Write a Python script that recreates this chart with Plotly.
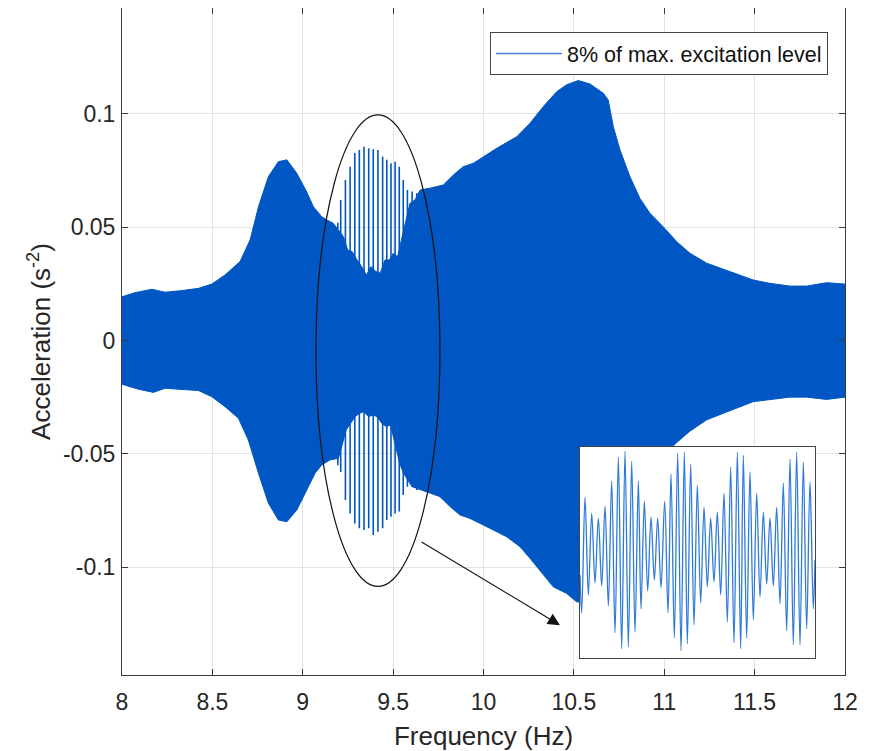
import plotly.graph_objects as go

# ---------------- data ----------------
freq_upper = [8.000, 8.072, 8.165, 8.238, 8.331, 8.423, 8.497, 8.570, 8.653, 8.709,
              8.755, 8.810, 8.865, 8.912, 8.967, 9.022, 9.059, 9.105, 9.133, 9.169,
              9.197, 9.225, 9.249, 9.274, 9.300, 9.326, 9.352, 9.378, 9.404, 9.429,
              9.455, 9.479, 9.501, 9.525, 9.548, 9.571, 9.593, 9.621, 9.649, 9.704,
              9.778, 9.833, 9.888, 9.944, 9.999, 10.073, 10.184, 10.257, 10.331, 10.405,
              10.460, 10.524, 10.589, 10.663, 10.690, 10.718, 10.755, 10.810, 10.866, 10.921,
              10.994, 11.069, 11.142, 11.235, 11.363, 11.492, 11.585, 11.695, 11.788, 11.898,
              12.000]
acc_upper = [0.0193, 0.0211, 0.0226, 0.0213, 0.0220, 0.0230, 0.0249, 0.0289, 0.0348, 0.0444,
             0.0590, 0.0723, 0.0789, 0.0797, 0.0738, 0.0655, 0.0590, 0.0546, 0.0532, 0.0517,
             0.0488, 0.0458, 0.0399, 0.0392, 0.0355, 0.0326, 0.0289, 0.0326, 0.0304, 0.0297,
             0.0355, 0.0355, 0.0385, 0.0370, 0.0451, 0.0532, 0.0605, 0.0620, 0.0664, 0.0672,
             0.0686, 0.0730, 0.0767, 0.0782, 0.0811, 0.0848, 0.0899, 0.0958, 0.1032, 0.1098,
             0.1128, 0.1147, 0.1132, 0.1091, 0.1061, 0.0944, 0.0841, 0.0723, 0.0626, 0.0561,
             0.0502, 0.0436, 0.0385, 0.0341, 0.0304, 0.0267, 0.0252, 0.0240, 0.0240, 0.0255,
             0.0249]

freq_lower = [8.000, 8.091, 8.174, 8.238, 8.331, 8.423, 8.497, 8.570, 8.644, 8.699,
              8.755, 8.810, 8.865, 8.912, 8.967, 9.022, 9.068, 9.105, 9.151, 9.197,
              9.215, 9.240, 9.264, 9.290, 9.314, 9.338, 9.364, 9.388, 9.412, 9.438,
              9.462, 9.486, 9.512, 9.536, 9.558, 9.581, 9.605, 9.631, 9.655, 9.704,
              9.759, 9.815, 9.870, 9.925, 9.981, 10.054, 10.128, 10.202, 10.257, 10.312,
              10.386, 10.460, 10.515, 10.589, 10.663, 10.718, 10.755, 10.810, 10.866, 10.921,
              10.994, 11.069, 11.142, 11.235, 11.363, 11.492, 11.585, 11.695, 11.788, 11.898,
              12.000]
acc_lower = [-0.0193, -0.0215, -0.0229, -0.0211, -0.0215, -0.0221, -0.0248, -0.0292, -0.0343, -0.0439,
             -0.0586, -0.0718, -0.0792, -0.0800, -0.0748, -0.0660, -0.0586, -0.0549, -0.0527, -0.0520,
             -0.0469, -0.0395, -0.0366, -0.0336, -0.0321, -0.0314, -0.0336, -0.0329, -0.0336, -0.0366,
             -0.0380, -0.0373, -0.0454, -0.0542, -0.0586, -0.0616, -0.0645, -0.0652, -0.0660, -0.0674,
             -0.0689, -0.0733, -0.0770, -0.0785, -0.0807, -0.0836, -0.0866, -0.0910, -0.0961, -0.1013,
             -0.1087, -0.1116, -0.1153, -0.1160, -0.1100, -0.0960, -0.0850, -0.0730, -0.0630, -0.0570,
             -0.0510, -0.0450, -0.0400, -0.0350, -0.0310, -0.0270, -0.0260, -0.0250, -0.0250, -0.0260,
             -0.0250]

spike_freq = [9.194, 9.210, 9.236, 9.262, 9.288, 9.313, 9.339, 9.365, 9.390, 9.416,
              9.442, 9.465, 9.488, 9.511, 9.534, 9.556, 9.579, 9.605, 9.631]
spike_top = [0.0519, 0.0620, 0.0708, 0.0767, 0.0827, 0.0841, 0.0855, 0.0848, 0.0844, 0.0841,
             0.0811, 0.0797, 0.0782, 0.0789, 0.0767, 0.0708, 0.0664, 0.0657, 0.0650]
spike_bottom = [-0.0550, -0.0580, -0.0704, -0.0763, -0.0807, -0.0829, -0.0836, -0.0829, -0.0858, -0.0844,
                -0.0829, -0.0792, -0.0778, -0.0763, -0.0755, -0.0682, -0.0645, -0.0645, -0.0660]

inset_t = [0.0, 0.5, 1.5, 2.5, 3.5, 4.5, 5.5, 6.5, 7.5, 8.5, 9.5, 10.5, 11.5, 12.5, 13.5, 14.5,
           15.5, 16.5, 17.5, 18.3, 19.3, 20.3, 21.3, 22.3, 23.3, 24.3, 25.4, 26.4, 27.3, 28.3,
           29.3, 30.3, 31.3, 32.2, 33.2, 34.2, 35.2, 36.2, 37.2, 38.2, 39.2, 40.2, 41.2, 42.2,
           43.2, 44.2, 45.2, 46.2, 47.2, 48.2, 49.0, 50.0, 51.0, 52.0, 53.0, 54.0, 55.0, 56.0,
           57.0, 58.0, 59.0, 60.0, 61.0, 62.0, 63.0, 64.0, 65.0, 66.0, 67.0, 68.0, 69.0, 70.0, 70.5]
inset_acc = [-0.25, -0.63, 0.53, -0.45, 0.37, -0.33, 0.32, -0.36, 0.44, -0.56, 0.69, -0.83, 0.93, -0.99,
             0.99, -0.97, 0.89, -0.82, 0.69, -0.59, 0.49, -0.41, 0.33, -0.30, 0.32, -0.38, 0.49, -0.63,
             0.76, -0.88, 0.97, -1.01, 0.98, -0.94, 0.86, -0.75, 0.65, -0.53, 0.43, -0.37, 0.32, -0.32,
             0.38, -0.45, 0.57, -0.72, 0.83, -0.93, 0.98, -0.99, 0.95, -0.88, 0.78, -0.70, 0.57, -0.47,
             0.38, -0.34, 0.32, -0.36, 0.43, -0.54, 0.67, -0.81, 0.91, -0.95, 0.98, -0.95, 0.88, -0.79,
             0.68, -0.59, -0.10]

x_ticks = [8, 8.5, 9, 9.5, 10, 10.5, 11, 11.5, 12]
x_tick_labels = ['8', '8.5', '9', '9.5', '10', '10.5', '11', '11.5', '12']
y_ticks = [-0.1, -0.05, 0, 0.05, 0.1]
y_tick_labels = ['-0.1', '-0.05', '0', '0.05', '0.1']

ellipse_f = [9.073, 9.759]
ellipse_acc = [-0.1085, 0.0995]
arrow_from = (9.649, -0.0885)
arrow_to = (10.423, -0.1256)

# ---------------- styling ----------------
FILL = '#0057C4'
LEG = '#3F86DE'
FONT = 'Liberation Sans, Arial, Helvetica, sans-serif'
TXT = '#262626'

fig = go.Figure()

band_x = freq_upper + freq_lower[::-1]
band_y = acc_upper + acc_lower[::-1]
fig.add_trace(go.Scatter(x=band_x, y=band_y, mode='lines', fill='toself',
                         fillcolor=FILL, line=dict(color=FILL, width=1),
                         showlegend=False, hoverinfo='skip'))

sx, sy = [], []
for f, t, b in zip(spike_freq, spike_top, spike_bottom):
    sx += [f, f, None]
    sy += [b, t, None]
fig.add_trace(go.Scatter(x=sx, y=sy, mode='lines', line=dict(color=FILL, width=1.6),
                         showlegend=False, hoverinfo='skip'))

# legend entry
fig.add_trace(go.Scatter(x=[None], y=[None], mode='lines', line=dict(color=LEG, width=1.6),
                         name='8% of max. excitation level'))

# inset
inset_xr = [min(inset_t), max(inset_t)]
inset_yr = [-1.083, 1.033]
fig.add_trace(go.Scatter(x=inset_t, y=inset_acc, mode='lines',
                         line=dict(color='#2F7AD9', width=1.3, shape='spline', smoothing=1.0),
                         xaxis='x2', yaxis='y2', showlegend=False, hoverinfo='skip'))

fig.add_shape(type='rect', xref='x2', yref='y2', x0=inset_xr[0], x1=inset_xr[1],
              y0=inset_yr[0], y1=inset_yr[1], fillcolor='white', line=dict(width=0), layer='below')

fig.add_shape(type='circle', xref='x', yref='y', x0=ellipse_f[0], x1=ellipse_f[1],
              y0=ellipse_acc[0], y1=ellipse_acc[1], line=dict(color='#111111', width=1.2))

fig.add_annotation(x=arrow_to[0], y=arrow_to[1], ax=arrow_from[0], ay=arrow_from[1],
                   xref='x', yref='y', axref='x', ayref='y', text='', showarrow=True,
                   arrowhead=2, arrowsize=2.2, arrowwidth=1.1, arrowcolor='#111111', standoff=0)

axis_common = dict(showline=True, linecolor='#3a3a3a', linewidth=1, mirror='ticks',
                   ticks='inside', ticklen=6, tickcolor='#3a3a3a',
                   showgrid=True, gridcolor='#E3E3E3', gridwidth=1, zeroline=False,
                   tickfont=dict(family=FONT, size=23, color=TXT))

fig.update_layout(
    width=863, height=743,
    margin=dict(l=114, r=26, t=0, b=76),
    paper_bgcolor='white', plot_bgcolor='white',
    font=dict(family=FONT, color=TXT),
    xaxis=dict(range=[8, 12], tickvals=x_ticks, ticktext=x_tick_labels,
               ticklabelstandoff=6,
               title=dict(text='Frequency (Hz)', font=dict(family=FONT, size=26, color=TXT), standoff=13),
               **axis_common),
    yaxis=dict(range=[-0.1476, 0.1467], tickvals=y_ticks, ticktext=y_tick_labels,
               ticklabelstandoff=1,
               title=dict(text='Acceleration (s<sup>-2</sup>)', font=dict(family=FONT, size=26, color=TXT), standoff=4),
               **axis_common),
    xaxis2=dict(domain=[0.6335, 0.9585], anchor='y2', range=inset_xr, showticklabels=False,
                showgrid=False, zeroline=False, showline=True, mirror=True, linecolor='#444444',
                linewidth=1.2, ticks=''),
    yaxis2=dict(domain=[0.0255, 0.3418], anchor='x2', range=inset_yr, showticklabels=False,
                showgrid=False, zeroline=False, showline=True, mirror=True, linecolor='#444444',
                linewidth=1.2, ticks=''),
    legend=dict(x=0.9765, y=0.964, xanchor='right', yanchor='top',
                bgcolor='white', bordercolor='#444444', borderwidth=1,
                font=dict(family=FONT, size=21.5, color='#111111'),
                itemwidth=66, tracegroupgap=0),
    showlegend=True,
)

fig.write_html('out.html')
